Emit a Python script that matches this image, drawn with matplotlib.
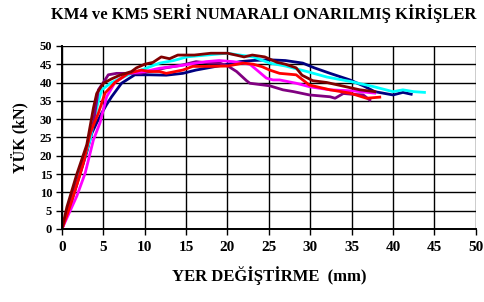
import matplotlib

matplotlib.use("Agg")
import matplotlib.pyplot as plt

# displacement (mm) / load (kN), one pair of lists per beam
navy_x = [0, 0.8, 1.5, 2.2, 3.0, 3.6, 4.2, 4.8, 5.4, 6.0, 7.2, 8.8, 10.6, 12.6, 14.6, 16.2, 18.6, 20, 21.5, 23,
          25.1, 27, 29.1, 30.5, 32.4, 34.8, 36.5, 37.8, 40, 41.2, 42.2]
navy_y = [0, 5, 10, 15.2, 21, 26.1, 29, 31.6, 34, 36.1, 39.8, 42.1, 42.1, 42, 42.5, 43.4, 44.4, 45, 45.7, 46,
          46.2, 46, 45.3, 44, 42.5, 40.7, 39, 37.5, 36.6, 37.3, 36.8]

cyan_x = [0, 0.8, 1.6, 2.5, 3.4, 3.8, 4.3, 4.8, 6, 8.4, 9.6, 11.8, 13.5, 15.1, 17.5, 19.9, 21.5, 23.1, 25.1, 27,
          29.6, 32, 34.8, 37.6, 40, 41.2, 42.5, 43.8]
cyan_y = [0, 6, 12, 18, 24.3, 29, 34, 38, 40, 42.5, 43.4, 45.3, 46, 47, 47.5, 48, 47.5, 47, 45.3, 44.5,
          43, 41.5, 40.3, 38.9, 37.5, 38, 37.5, 37.3]

red_x = [0, 0.8, 1.8, 2.6, 3.4, 4.4, 5.2, 6.4, 8, 9.6, 10.6, 11.8, 12.6, 14.6, 15.8, 17.9, 20, 21.9, 23.1, 24.2,
         25.1, 26.3, 28.3, 29.9, 32.4, 34.8, 36.8, 38.4]
red_y = [0, 5, 12, 18, 26.1, 31.6, 37.1, 40, 42.5, 43.4, 43, 43, 42.5, 43.4, 44.4, 44.4, 44.5, 45.3, 45, 44.3,
         43.4, 42.5, 42.1, 39.3, 38, 37.1, 35.7, 36]

magenta_x = [0, 0.8, 1.8, 2.8, 3.8, 4.6, 5.4, 6.4, 8, 10, 11.8, 14, 16.2, 17.4, 19, 20.7, 22.7, 23.5, 24.7,
             25.5, 26.3, 28.3, 30, 32.4, 35.2, 37.8]
magenta_y = [0, 4, 9, 15.2, 24.3, 29, 36.1, 40, 42.5, 43, 43.9, 44.5, 45.3, 45.7, 46, 45.7, 45, 43.5, 41.2,
             40.7, 40.7, 39.8, 38.8, 38, 37.7, 37.1]

purple_x = [0, 1.0, 2.2, 3.2, 3.8, 4.4, 5.0, 5.6, 6.6, 8, 9.5, 10.6, 12.5, 14.6, 16.2, 17.8, 19.1, 20.2, 21.1,
            22.3, 22.7, 25.1, 26.7, 28, 29.9, 32.4, 33, 34, 35, 36.4, 37.2]
purple_y = [0, 7.9, 15.2, 24.3, 29, 38, 40, 42.1, 42.5, 42.5, 42.5, 43, 44, 44.8, 45.7, 45.3, 45.3, 44.3, 43,
            40.5, 39.8, 39.1, 38, 37.5, 36.6, 36.1, 35.7, 37, 36.8, 36.6, 35.2]

maroon_x = [0, 0.4, 0.6, 1.0, 1.8, 2.4, 3.0, 3.4, 3.8, 4.2, 5, 6, 7, 8.4, 9, 10, 11, 12, 13, 14, 16, 18, 20,
            21, 22, 23, 24.5, 26, 27, 28.3, 29, 30.3, 32, 34, 36, 37.8]
maroon_y = [0, 4, 6, 9, 15, 19, 23, 28, 33, 37, 39.8, 41, 42, 43, 44, 45, 45.5, 47, 46.5, 47.5, 47.5, 48, 48,
            47.5, 47, 47.5, 47, 45.5, 45, 44, 42, 40.5, 40, 39, 38, 37.5]

series = [
    (navy_x, navy_y, "#000080"),
    (cyan_x, cyan_y, "#00FFFF"),
    (purple_x, purple_y, "#800080"),
    (magenta_x, magenta_y, "#FF00FF"),
    (red_x, red_y, "#FF0000"),
    (maroon_x, maroon_y, "#800000"),
]

x_ticks = list(range(0, 51, 5))
y_ticks = list(range(0, 51, 5))

font = "Liberation Serif"

fig, ax = plt.subplots(figsize=(4.84, 3.02), dpi=100)
fig.subplots_adjust(left=0.128, right=0.983, bottom=0.242, top=0.848)

ax.set_xlim(0, 50)
ax.set_ylim(0, 50)
ax.set_xticks(x_ticks)
ax.set_yticks(y_ticks)
ax.grid(visible=True, which="major", axis="both", color="black", linestyle="-", linewidth=1.0)
ax.set_axisbelow(True)

for xs, ys, col in series:
    ax.plot(xs, ys, color=col, linewidth=2.0, solid_joinstyle="round")

for side in ("top", "right"):
    ax.spines[side].set_visible(False)
for side in ("left", "bottom"):
    ax.spines[side].set_linewidth(1.4)
    ax.spines[side].set_color("black")

ax.tick_params(axis="x", labelsize=11, pad=5, direction="out", length=4, width=1)
ax.tick_params(axis="y", labelsize=9, pad=3, direction="out", length=4, width=1)
for lab in ax.get_xticklabels() + ax.get_yticklabels():
    lab.set_fontfamily(font)
    lab.set_fontweight("bold")

ax.set_xlabel("YER DEĞİŞTİRME  (mm)", fontfamily=font, fontweight="bold", fontsize=12, labelpad=8)
ax.set_ylabel("YÜK (kN)", fontfamily=font, fontweight="bold", fontsize=11.5, labelpad=8)

fig.text(0.545, 0.955, "KM4 ve KM5 SERİ NUMARALI ONARILMIŞ KİRİŞLER", ha="center", va="center",
         fontfamily=font, fontweight="bold", fontsize=12)

fig.savefig("out.png", dpi=100)
